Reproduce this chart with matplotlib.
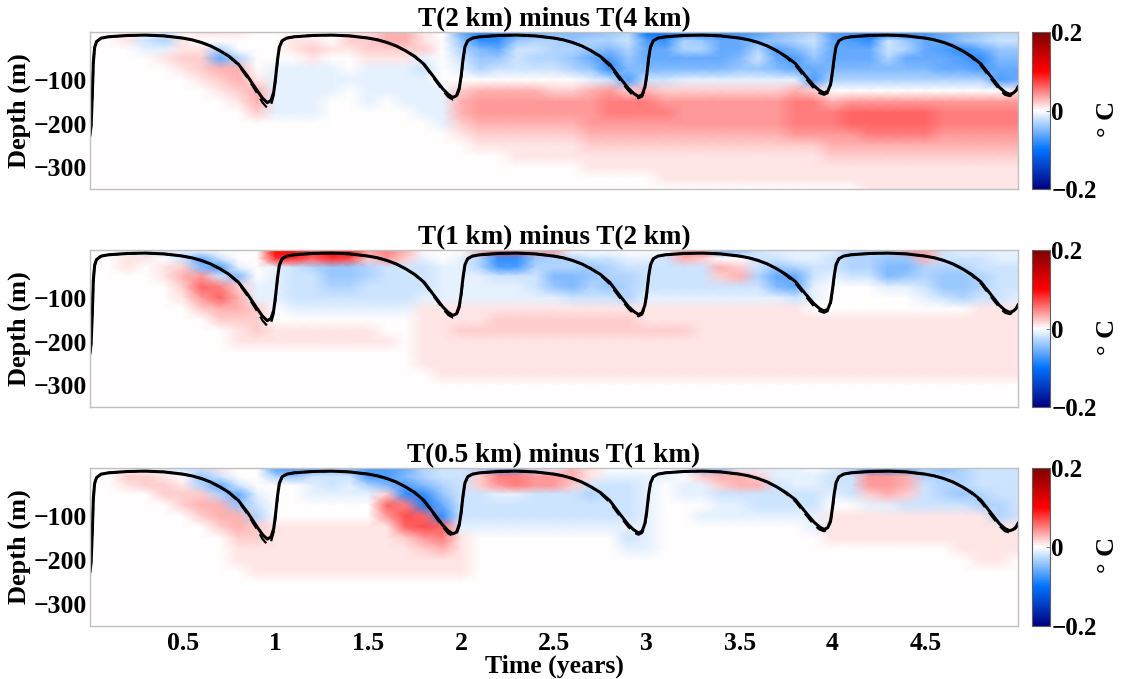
import numpy as np
import matplotlib
matplotlib.use('Agg')
import matplotlib.pyplot as plt
from matplotlib.colors import LinearSegmentedColormap

# ---------------- data ----------------
time_nodes = np.linspace(0.0, 5.0, 51)          # years (model output grid)
depth_nodes = [10, -10, -30, -50, -75, -100, -125, -150, -175, -200,
               -225, -250, -275, -300, -325, -350]  # m

# one string per time node, one char per depth node (top -> bottom)
# '0' = 0 ; '1'..'9','A','B','C' = +0.01..+0.12 ; 'a'..'l' = -0.01..-0.12 (deg C)
diff_2km_4km = [
    "0000000000000000", "0000000000000000", "1100000000000000", "0ba0000000000000",
    "bca1000000000000", "0112100000000000", "1012210000000000", "10cf321000000000",
    "100c332100000000", "0000013320000000", "0000aaaaa0000000", "0110aaaaa0000000",
    "0121aaaaa0000000", "0010aaa000000000", "12100a0000000000", "1221aaaa00000000",
    "3321aaa000000000", "3321aaaa00000000", "112abaaaa0000000", "000000aaaa000000",
    "fdcba02332100000", "ihedc03443210000", "ihfdb03443210000", "gdbbb03443211000",
    "fcbcb03443211000", "ecccb02443211000", "edcdc02443211000", "ecdfda3444321100",
    "dceghb4554321100", "cbcdeg2554321100", "jgffeb3554321100", "jhffeb2454321110",
    "iccfea2444321110", "idcfea2444321110", "hfffea2444321110", "hffeda2444321110",
    "gecbda2444321110", "edgfea2444321110", "dcegfa3555421110", "cbcdfg2555421110",
    "gfffec0355432110", "hgffec0466432110", "jhffec0466532111", "jbbcec0466532111",
    "idcfec0466532111", "hfffec0466532111", "ffgffc0455432111", "edhgfc0455432111",
    "dcfhgc0455432111", "cbdefg0455432111", "cbdeff1455432111",
]
diff_1km_2km = [
    "0000000000000000", "0000000000000000", "a110000000000000", "b100000000000000",
    "b011000000000000", "ab23210000000000", "0fe4642000000000", "0bgb563200000000",
    "00ae233211000000", "0000aa2221000000", "A8aaaa0011000000", "B8bbbba011000000",
    "86cbbba011000000", "A8ddcba011000000", "A7ddcba011000000", "42ccbba011000000",
    "54bbbba001000000", "32bbbba000000000", "0abbba1111110000", "00aaaa1111111000",
    "0aaaaa1121111000", "3ccaaa1121111000", "7hgbaa1221111000", "7hgbaa1221111000",
    "4dcbba1221111000", "4cceda1221111000", "0cceeb1221111000", "0bddcb1221111000",
    "0bccdb1221111000", "0abccc1221111000", "0abbba1121111000", "0bbbba1121111000",
    "53bbba1121111000", "52bbba1111111000", "f032ba1111111000", "e023ba1111111000",
    "bbbcba1111111000", "abdfea1111111000", "aacffb1111111000", "aabbaa0111111000",
    "abba000111111000", "cccb000111111000", "cccb000111111000", "cdeea00111111000",
    "4deda00111111000", "43ccba0111111000", "bbcddb0111111000", "abcddc0111111000",
    "abbccb1111111000", "aabbbb1111111000", "aabbba1111111000",
]
diff_05km_1km = [
    "0000000000000000", "0000000000000000", "0210000000000000", "0220000000000000",
    "a122000000000000", "b012200000000000", "bdc2320000000000", "1bfc332000000000",
    "00bfd33211000000", "000abc2211100000", "gc00001111100000", "gd00001111100000",
    "fbaa001111100000", "dbba001111100000", "ebaa001111100000", "ggca001111100000",
    "gge2641111100000", "fegh576211100000", "ccehi67421100000", "bbcdfh6531100000",
    "bbbbbba111100000", "c22bbba000000000", "g54abba000000000", "g55abba000000000",
    "b44bbba000000000", "a44bbba000000000", "332bbba000000000", "11bcbba000000000",
    "0abbbba000000000", "0abbbbaba0000000", "0aaaaaaaa0000000", "0a00000000000000",
    "a0aa000000000000", "e2aa0a0000000000", "e32baa0000000000", "a33baa0000000000",
    "a23bba0000000000", "aabbba0000000000", "aaabba0000000000", "0aabbaa000000000",
    "abba011100000000", "cbbb011100000000", "h442a11100000000", "h443a11100000000",
    "g332b11100000000", "ccbbb11100000000", "ecccb11100000000", "cccdb11110000000",
    "bbbcc11111000000", "bbbbcc1111000000", "bbbbbb1110000000",
]

# mixed-layer depth (m): solid and dashed runs
mld_time = [
    0.000, 0.006, 0.012, 0.018, 0.025, 0.035, 0.06, 0.10, 0.20, 0.30, 0.40, 0.50, 0.55, 0.60,
    0.65, 0.70, 0.75, 0.80, 0.85, 0.90, 0.93, 0.955, 0.975, 0.99,
    1.000, 1.010, 1.020, 1.035, 1.06, 1.10, 1.20, 1.30, 1.40, 1.50, 1.55, 1.60, 1.65, 1.70,
    1.75, 1.80, 1.85, 1.90, 1.93, 1.955, 1.975, 1.99,
    2.000, 2.010, 2.020, 2.035, 2.06, 2.10, 2.20, 2.30, 2.40, 2.50, 2.55, 2.60, 2.65, 2.70,
    2.75, 2.80, 2.85, 2.90, 2.93, 2.955, 2.975, 2.99,
    3.000, 3.010, 3.020, 3.035, 3.06, 3.10, 3.20, 3.30, 3.40, 3.50, 3.55, 3.60, 3.65, 3.70,
    3.75, 3.80, 3.85, 3.90, 3.93, 3.955, 3.975, 3.99,
    4.000, 4.010, 4.020, 4.035, 4.06, 4.10, 4.20, 4.30, 4.40, 4.50, 4.55, 4.60, 4.65, 4.70,
    4.75, 4.80, 4.85, 4.90, 4.93, 4.955, 4.975, 4.99, 5.00,
]
mld_solid = [
    -226, -205, -140, -60, -25, -12, -4, -1, 2, 3, 1, -4, -8, -14,
    -22, -33, -46, -64, -92, -124, -142, -152, -147, -128,
    -95, -55, -25, -10, -4, -1, 2, 3, 1, -4, -8, -14, -22, -33,
    -46, -64, -92, -120, -133, -140, -136, -118,
    -90, -52, -24, -10, -4, -1, 2, 3, 1, -4, -8, -14, -22, -33,
    -46, -64, -92, -119, -131, -138, -134, -116,
    -88, -50, -24, -10, -4, -1, 2, 3, 1, -4, -8, -14, -22, -33,
    -46, -62, -88, -113, -124, -130, -126, -110,
    -82, -48, -23, -10, -4, -1, 2, 3, 1, -4, -8, -14, -22, -33,
    -46, -63, -90, -117, -128, -133, -130, -124, -116,
]
mld_dashed = [
    -226, -205, -140, -60, -25, -12, -4, -1, 2, 3, 1, -4, -8, -14,
    -22, -33, -47, -66, -96, -130, -152, -164, -158, -135,
    -100, -58, -26, -10, -4, -1, 2, 3, 1, -4, -8, -14, -22, -33,
    -47, -66, -95, -124, -139, -145, -140, -122,
    -94, -55, -25, -10, -4, -1, 2, 3, 1, -4, -8, -14, -22, -33,
    -48, -68, -97, -124, -137, -142, -138, -120,
    -92, -53, -25, -10, -4, -1, 2, 3, 1, -4, -8, -14, -22, -33,
    -48, -66, -93, -119, -130, -134, -130, -114,
    -86, -51, -24, -10, -4, -1, 2, 3, 1, -4, -8, -14, -22, -33,
    -48, -67, -95, -122, -134, -137, -133, -126, -118,
]

panel_titles = ["T(2 km) minus T(4 km)", "T(1 km) minus T(2 km)", "T(0.5 km) minus T(1 km)"]
xticks = [0.5, 1, 1.5, 2, 2.5, 3, 3.5, 4, 4.5]
xtick_labels = ["0.5", "1", "1.5", "2", "2.5", "3", "3.5", "4", "4.5"]
yticks = [-100, -200, -300]
ytick_labels = ["\u2212100", "\u2212200", "\u2212300"]
cbar_ticks = [-0.2, 0, 0.2]
cbar_tick_labels = ["\u22120.2", "0", "0.2"]

# ---------------- helpers ----------------
CODE = {'0': 0.0}
for i, ch in enumerate('123456789ABC'):
    CODE[ch] = (i + 1) * 0.01
for i, ch in enumerate('abcdefghijkl'):
    CODE[ch] = -(i + 1) * 0.01


def decode(cols):
    return np.array([[CODE[c] for c in col] for col in cols]).T


cmap = LinearSegmentedColormap.from_list(
    "bwr_dark",
    [(0.0, (0.0, 0.0, 0.5)), (0.25, (0.0, 0.45, 1.0)), (0.5, (1.0, 1.0, 1.0)),
     (0.75, (1.0, 0.0, 0.0)), (1.0, (0.5, 0.0, 0.0))])

plt.rcParams['font.family'] = ['Liberation Serif', 'DejaVu Serif']
plt.rcParams['font.weight'] = 'bold'
plt.rcParams['axes.unicode_minus'] = True

W, H = 1128, 679
fig = plt.figure(figsize=(W / 100, H / 100), dpi=100)

ax_px = [(32, 189), (250, 407), (468, 626)]   # top, bottom pixel rows
left_px, right_px = 90, 1018
cb_left, cb_right = 1032, 1050

fields = [diff_2km_4km, diff_1km_2km, diff_05km_1km]
TT, DD = np.meshgrid(time_nodes, depth_nodes)

for k, (top, bot) in enumerate(ax_px):
    ax = fig.add_axes([left_px / W, 1 - bot / H, (right_px - left_px) / W, (bot - top) / H])
    Z = decode(fields[k])
    mesh = ax.pcolormesh(TT, DD, Z, shading='gouraud', cmap=cmap, vmin=-0.2, vmax=0.2,
                         rasterized=True)
    ax.plot(mld_time, mld_dashed, color='black', lw=1.6, ls=(0, (5, 3)))
    ax.plot(mld_time, mld_solid, color='black', lw=2.2)
    ax.set_xlim(0, 5)
    ax.set_ylim(-350, 10)
    ax.set_yticks(yticks)
    ax.set_yticklabels(ytick_labels, fontsize=18.5, fontweight='bold')
    ax.set_xticks(xticks)
    if k == 2:
        ax.set_xticklabels(xtick_labels, fontsize=18.5, fontweight='bold')
        ax.set_xlabel("Time (years)", fontsize=18.5, fontweight='bold', labelpad=0)
    else:
        ax.set_xticklabels([])
    ax.tick_params(axis='both', direction='in', length=0, pad=2)
    ax.tick_params(axis='x', pad=4)
    for s in ax.spines.values():
        s.set_color('#c0c0c0')
        s.set_linewidth(1.0)
    ax.set_ylabel("Depth (m)", fontsize=19, fontweight='bold', labelpad=2)
    ax.set_title(panel_titles[k], fontsize=19.5, fontweight='bold', pad=2)

    cax = fig.add_axes([cb_left / W, 1 - bot / H, (cb_right - cb_left) / W, (bot - top) / H])
    cb = fig.colorbar(mesh, cax=cax, ticks=cbar_ticks)
    cb.ax.set_yticklabels(cbar_tick_labels, fontsize=18, fontweight='bold')
    cb.ax.tick_params(length=3, direction='in', color='#808080', pad=1)
    cb.outline.set_edgecolor('#606060')
    cb.outline.set_linewidth(0.8)
    mid = (top + bot) / 2 + 8
    fig.text(1107 / W, 1 - mid / H, "\u00b0 C", fontsize=19, fontweight='bold',
             rotation=90, ha='center', va='center')

fig.savefig("out.png", dpi=100)
